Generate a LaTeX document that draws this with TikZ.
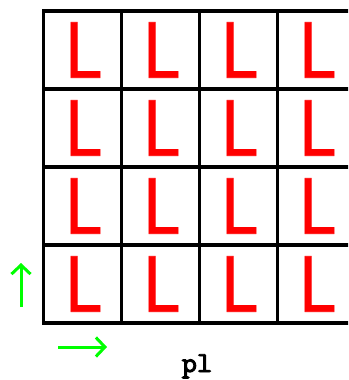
\documentclass[tikz,border=0pt]{standalone}
\usepackage{fontspec}
\newfontfamily\Lfont[FakeBold=1]{DejaVu Sans}
\newfontfamily\monob[Extension=.otf,FakeBold=3]{lmmono10-regular}
\usetikzlibrary{arrows.meta}
\definecolor{gr}{RGB}{0,255,0}
\begin{document}
\begin{tikzpicture}[x=1pt,y=-1pt,
  gridline/.style={line width=3.3pt, black},
  ell/.style={text=red, font=\Lfont\fontsize{76}{76}\selectfont, inner sep=0pt, anchor=center, xscale=0.85},
  garrow/.style={gr, line width=3pt, -{Straight Barb[length=9pt,width=19pt,line width=3pt]}},
  lbl/.style={font=\monob\fontsize{29}{29}\selectfont, inner sep=0pt, anchor=base}]
\useasboundingbox (0,0) rectangle (348,380);
\clip (0,0) rectangle (348,380);
\foreach \c in {0,...,3} {
  \foreach \r in {0,...,3} {
    \node[ell] (L\r\c) at ({82.5+78*\c},{50+78*\r}) {L};
  }
}
\foreach \i in {0,...,4} {
  \draw[gridline] ({43.5+78*\i},11) -- ({43.5+78*\i},323);
  \draw[gridline] (42,{11+78*\i}) -- (360,{11+78*\i});
}
\coordinate (ua) at (21,307);
\coordinate (ub) at (21,263);
\coordinate (ra) at (58,347);
\coordinate (rb) at (107,347);
\draw[garrow] (ua) -- (ub);
\draw[garrow] (ra) -- (rb);
\node[lbl] (pl) at (197,372) {pl};
\end{tikzpicture}
\end{document}
